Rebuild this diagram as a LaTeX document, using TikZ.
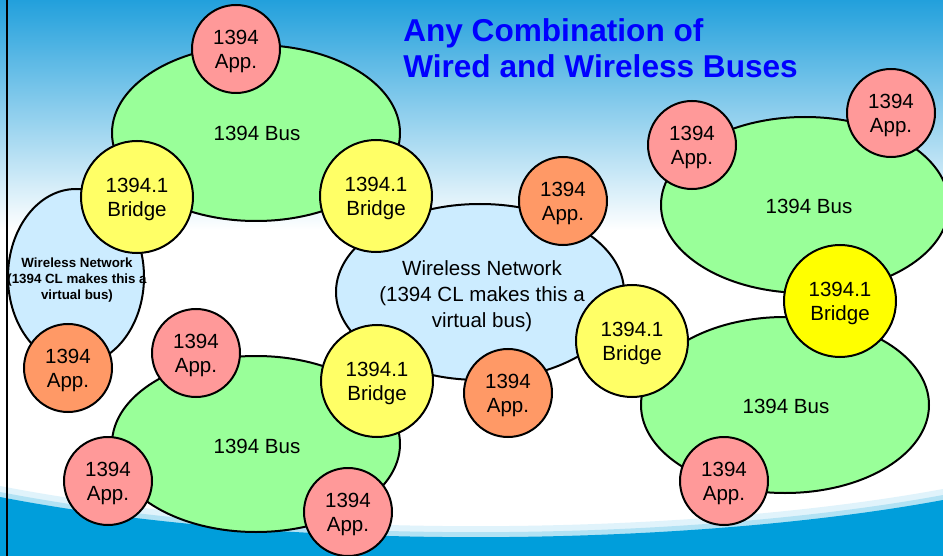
\documentclass[tikz,border=0pt]{standalone}
\usepackage{fontspec}
\setmainfont{Liberation Sans}
\usetikzlibrary{shapes.geometric}

\definecolor{skytop}{RGB}{34,160,220}
\definecolor{swoosh}{RGB}{0,158,219}
\definecolor{busgreen}{HTML}{99FF99}
\definecolor{apppink}{HTML}{FF9999}
\definecolor{apporange}{HTML}{FF9966}
\definecolor{bridgeyellow}{HTML}{FFFF66}
\definecolor{bridgebright}{HTML}{FFFF00}
\definecolor{wirelessblue}{HTML}{CCECFF}
\definecolor{titleblue}{HTML}{0000FF}

\tikzset{
  outline/.style={draw=black, line width=1.5pt, inner sep=0pt},
  bus/.style={outline, ellipse, fill=busgreen, minimum width=216pt, minimum height=132pt},
  wireless/.style={outline, ellipse, fill=wirelessblue},
  app/.style={outline, circle, minimum size=66pt},
  pinkapp/.style={app, fill=apppink},
  orangeapp/.style={app, fill=apporange},
  bridge/.style={outline, circle, minimum size=84pt, fill=bridgeyellow},
  label/.style={font=\fontsize{15.4}{18}\selectfont, align=center, text depth=0pt},
  biglabel/.style={font=\fontsize{15.4}{19.5}\selectfont, align=center},
  smalllabel/.style={font=\bfseries\fontsize{10}{12}\selectfont, align=center},
  titleline/.style={font=\bfseries\fontsize{23.7}{27}\selectfont, text=titleblue, anchor=base west, inner sep=0pt},
}

\begin{document}
\begin{tikzpicture}[x=0.75pt, y=-0.75pt]
\useasboundingbox (0,0) rectangle (943,556);
\clip (0,0) rectangle (943,556);

% sky gradient and white page
\fill[white] (0,0) rectangle (943,556);
\shade[top color=skytop, bottom color=white] (0,0) rectangle (943,230);

% blue swoosh along the bottom, with a soft fringe
\fill[swoosh!12] (0,486) .. controls (300,544) and (700,534) .. (943,489) -- (943,556) -- (0,556) -- cycle;
\fill[swoosh!30] (0,492) .. controls (300,550) and (700,540) .. (943,495) -- (943,556) -- (0,556) -- cycle;
\fill[swoosh] (0,497) .. controls (300,555) and (700,545) .. (943,500) -- (943,556) -- (0,556) -- cycle;

% title
\node[titleline] (title1) at (403,42) {Any Combination of};
\node[titleline] (title2) at (403,78) {Wired and Wireless Buses};

% buses and wireless networks
\node[bus] (busTL) at (256,133) {};
\node[bus] (busBL) at (256,444) {};
\node[bus] (busTR) at (805,205) {};
\node[bus] (busBR) at (785,405) {};
\node[wireless, minimum width=216pt, minimum height=132pt] (wlC) at (480,292) {};
\node[wireless, minimum width=102pt, minimum height=132pt] (wlL) at (76,277) {};

\node[label] (busTLt) at (257,133) {1394 Bus};
\node[label] (busBLt) at (257,446) {1394 Bus};
\node[label] (busTRt) at (809,206) {1394 Bus};
\node[label] (busBRt) at (786,406) {1394 Bus};
\node[biglabel] (wlCt) at (482,296) {Wireless Network\\(1394 CL makes this a\\virtual bus)};
\node[smalllabel] (wlLt) at (77,280) {Wireless Network\\(1394 CL makes this a\\virtual bus)};

% applications
\node[pinkapp, label] (appT) at (236,49) {1394\\App.};
\node[pinkapp, label] (appBLu) at (196,353) {1394\\App.};
\node[pinkapp, label] (appBLl) at (108,481) {1394\\App.};
\node[pinkapp, label] (appBLb) at (348,512) {1394\\App.};
\node[pinkapp, label] (appTRl) at (692,145) {1394\\App.};
\node[pinkapp, label] (appTRr) at (891,113) {1394\\App.};
\node[pinkapp, label] (appBR) at (724,481) {1394\\App.};
\node[orangeapp, label] (appOL) at (68,368) {1394\\App.};
\node[orangeapp, label] (appOT) at (563,201) {1394\\App.};
\node[orangeapp, label] (appOB) at (508,393) {1394\\App.};

% bridges
\node[bridge, label] (brL) at (137,197) {1394.1\\Bridge};
\node[bridge, label] (brMT) at (376,196) {1394.1\\Bridge};
\node[bridge, label] (brMB) at (377,381) {1394.1\\Bridge};
\node[bridge, label] (brCR) at (632,341) {1394.1\\Bridge};
\node[bridge, label, fill=bridgebright] (brR) at (840,301) {1394.1\\Bridge};

% left frame edge
\coordinate (edgeTop) at (7,0);
\coordinate (edgeBot) at (7,556);
\draw[line width=2pt] (edgeTop) -- (edgeBot);
\end{tikzpicture}
\end{document}
